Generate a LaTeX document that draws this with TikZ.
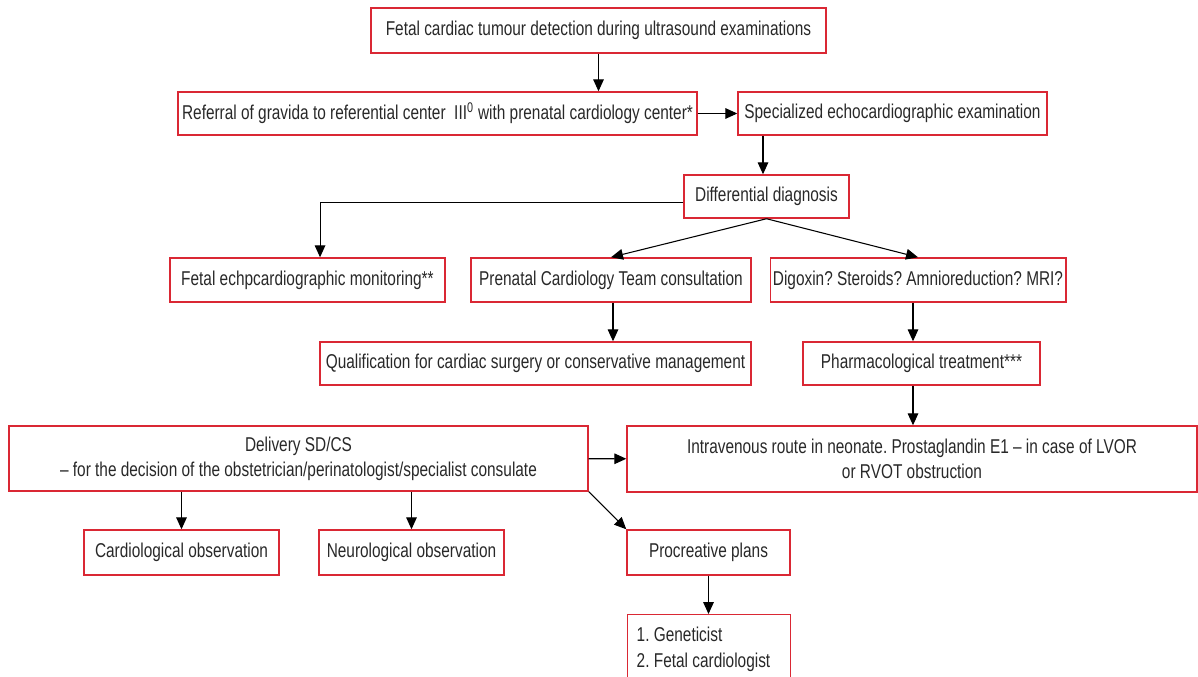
\documentclass[tikz,border=0pt]{standalone}
\usepackage{fontspec}
\setmainfont[FakeStretch=0.77]{Liberation Sans}
\frenchspacing
\usetikzlibrary{arrows.meta}
\definecolor{boxred}{RGB}{218,40,52}
\definecolor{txtgray}{RGB}{40,40,40}
\tikzset{
  box/.style={draw=boxred, line width=1.1pt, text=txtgray, align=center, inner sep=2pt, font=\fontsize{15}{18.5}\selectfont},
  arr/.style={-{Triangle[length=9pt,width=8pt]}, line width=0.8pt, black}
}
\begin{document}
\begin{tikzpicture}[x=0.75pt, y=-0.75pt]
\useasboundingbox (0,0) rectangle (1198,677);
% first row
\node [box, minimum width=455*0.75pt, minimum height=45*0.75pt] (detect) at (598.5,30.5) {Fetal cardiac tumour detection during ultrasound examinations};
\node [box, minimum width=519*0.75pt, minimum height=43*0.75pt] (referral) at (437.5,113.5) {Referral of gravida to referential center \ III\textsuperscript{0} with prenatal cardiology center*};
\node [box, minimum width=309*0.75pt, minimum height=43*0.75pt] (echo) at (892.5,113.5) {Specialized echocardiographic examination};
\node [box, minimum width=165*0.75pt, minimum height=43*0.75pt] (diag) at (766.5,196.5) {Differential diagnosis};
% diagnosis branches
\node [box, minimum width=275*0.75pt, minimum height=44*0.75pt] (monitor) at (307.5,280) {Fetal echpcardiographic monitoring**};
\node [box, minimum width=280*0.75pt, minimum height=44*0.75pt] (team) at (611,280) {Prenatal Cardiology Team consultation};
\node [box, minimum width=288*0.75pt, minimum height=44*0.75pt] (digoxin) at (918,280) {Digoxin? Steroids? Amnioreduction? MRI?};
\node [box, minimum width=431*0.75pt, minimum height=43*0.75pt] (qualif) at (535.5,363.5) {Qualification for cardiac surgery or conservative management};
\node [box, minimum width=237*0.75pt, minimum height=43*0.75pt] (pharma) at (921.5,363.5) {Pharmacological treatment***};
% delivery
\node [box, minimum width=579*0.75pt, minimum height=65*0.75pt] (delivery) at (298.5,458.5) {Delivery SD/CS\\ -- for the decision of the obstetrician/perinatologist/specialist consulate};
\node [box, minimum width=570*0.75pt, minimum height=66*0.75pt] (neonate) at (912,459) {Intravenous route in neonate. Prostaglandin E1 -- in case of LVOR\\ or RVOT obstruction};
\node [box, minimum width=195*0.75pt, minimum height=45*0.75pt] (cardio) at (181.5,552.5) {Cardiological observation};
\node [box, minimum width=185*0.75pt, minimum height=45*0.75pt] (neuro) at (411.5,552.5) {Neurological observation};
\node [box, minimum width=163*0.75pt, minimum height=45*0.75pt] (plans) at (708.5,552.5) {Procreative plans};
\node [box, minimum width=163*0.75pt, minimum height=76*0.75pt, anchor=north west] (genet) at (627,614) {};
\node [box, draw=none, align=left, anchor=north west, inner sep=0pt, font=\fontsize{15}{20}\selectfont] (genettext) at (636,626) {1. Geneticist\\2. Fetal cardiologist};
% connectors
\draw [arr] (detect) -- (referral.north -| detect);
\draw [arr] (referral) -- (echo);
\draw [arr] (echo.south -| 763,0) -- (diag.north -| 763,0);
\draw [arr] ([yshift=-4.5pt]diag.west) -| ([xshift=9.4pt]monitor.north);
\draw [arr] (diag.south) -- (team.north);
\draw [arr] (diag.south) -- (digoxin.north);
\draw [arr] (team.south -| 613,0) -- (qualif.north -| 613,0);
\draw [arr] (digoxin.south -| 913,0) -- (pharma.north -| 913,0);
\draw [arr] (pharma.south -| 913,0) -- (neonate.north -| 913,0);
\draw [arr] (delivery) -- (neonate);
\draw [arr] (delivery.south -| cardio) -- (cardio);
\draw [arr] (delivery.south -| neuro) -- (neuro);
\draw [arr] (delivery.south east) -- (plans.north west);
\draw [arr] (plans) -- (genet.north -| plans);
\end{tikzpicture}
\end{document}
